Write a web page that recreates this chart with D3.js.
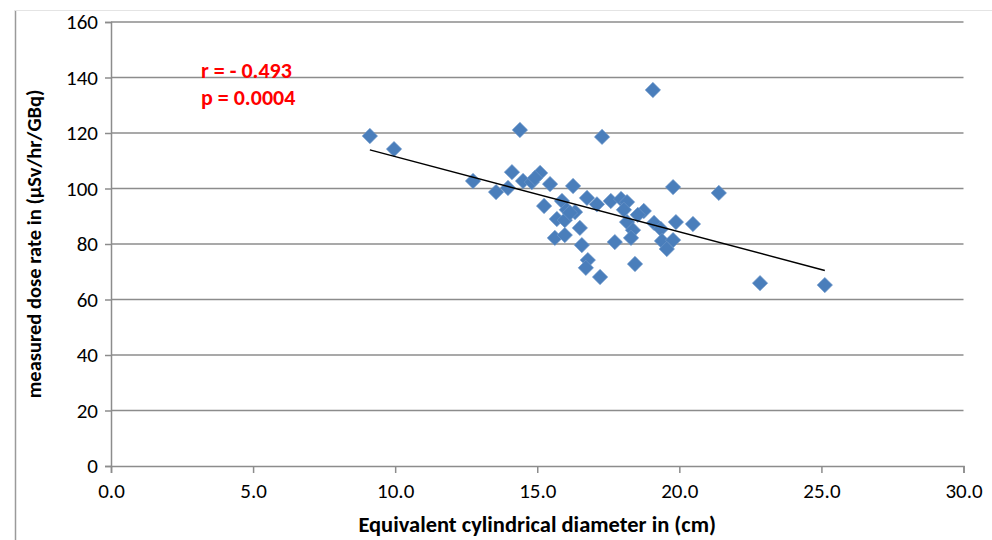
<!DOCTYPE html>
<html><head><meta charset="utf-8">
<script src="https://cdn.jsdelivr.net/npm/d3@7"></script>
<style>
html,body{margin:0;padding:0;background:#fff;}
svg{display:block;font-family:Carlito,Calibri,Lato,"Open Sans",sans-serif;}
</style></head>
<body>
<svg id="chart" width="992" height="540"></svg>
<script>
const diameter = [9.11,9.96,12.74,13.55,13.97,14.11,14.39,14.50,14.81,15.10,14.92,15.45,15.24,15.87,16.04,15.69,15.97,15.62,15.97,16.26,16.33,16.50,16.57,16.78,16.71,17.21,17.28,16.75,17.10,17.59,17.95,18.16,18.05,18.75,18.54,18.16,18.37,18.30,17.73,19.07,19.11,19.35,19.78,19.88,19.39,19.78,19.56,18.44,20.48,21.39,22.84,25.12,16.15];
const doseRate = [118.9,114.2,102.7,98.7,100.2,105.9,121.1,102.7,102.3,105.6,103.8,101.6,93.7,95.5,92.3,89.0,88.6,82.2,83.2,100.9,91.5,85.8,79.6,74.2,71.4,68.1,118.6,96.6,94.3,95.5,96.2,95.1,92.3,91.9,90.5,87.9,85.0,82.2,80.7,135.5,87.6,85.4,100.5,87.9,81.1,81.4,78.2,72.8,87.2,98.4,65.9,65.2,91.2];
const xTicks = [0,5,10,15,20,25,30];
const yTicks = [0,20,40,60,80,100,120,140,160];
const statLabels = ["r = - 0.493","p = 0.0004"];
const xTitle = "Equivalent cylindrical diameter in (cm)";
const yTitle = "measured dose rate in (\u00b5Sv/hr/GBq)";

const svg = d3.select("#chart");
const mL = 111, mR = 963.5, mT = 22, mB = 466;
const x = d3.scaleLinear().domain([0,30]).range([mL,mR]);
const y = d3.scaleLinear().domain([0,160]).range([mB,mT]);

// frame
svg.append("line").attr("x1",15.5).attr("x2",15.5).attr("y1",10).attr("y2",540).attr("stroke","#9a9a9a").attr("stroke-width",1.5);
svg.append("line").attr("x1",15).attr("x2",992).attr("y1",10.5).attr("y2",10.5).attr("stroke","#e4e4e4").attr("stroke-width",1);

// gridlines
svg.append("g").selectAll("line").data(yTicks.filter(d=>d>0)).join("line")
  .attr("x1",mL).attr("x2",mR).attr("y1",d=>y(d)).attr("y2",d=>y(d))
  .attr("stroke","#8c8c8c").attr("stroke-width",1.5);

// axes
const gx = svg.append("g").attr("transform",`translate(0,${mB})`)
  .call(d3.axisBottom(x).tickValues(xTicks).tickFormat(d3.format(".1f")).tickSize(7).tickPadding(10));
const gy = svg.append("g").attr("transform",`translate(${mL},0)`)
  .call(d3.axisLeft(y).tickValues(yTicks).tickFormat(d3.format("d")).tickSize(6).tickPadding(7));
[gx,gy].forEach(g=>{
  g.select(".domain").attr("stroke","#8c8c8c").attr("stroke-width",1.5);
  g.selectAll(".tick line").attr("stroke","#8c8c8c").attr("stroke-width",1.5);
  g.selectAll(".tick text").attr("fill","#000").style("font-size","21px").style("font-family","Carlito,Calibri,Lato,'Open Sans',sans-serif");
});

// trend line (least squares)
const n = diameter.length;
const mx = d3.mean(diameter), my = d3.mean(doseRate);
let sxy=0, sxx=0;
for(let i=0;i<n;i++){ sxy += (diameter[i]-mx)*(doseRate[i]-my); sxx += (diameter[i]-mx)**2; }
const slope = sxy/sxx, icpt = my - slope*mx;
const xr = d3.extent(diameter);

// points
svg.append("g").selectAll("path").data(diameter.map((d,i)=>[d,doseRate[i]])).join("path")
  .attr("d", d3.symbol().type(d3.symbolSquare).size(118))
  .attr("transform", d=>`translate(${x(d[0])},${y(d[1])}) rotate(45)`)
  .attr("fill","#4a7ebb").attr("stroke","#6e97c9").attr("stroke-width",0.6);

svg.append("line")
  .attr("x1",x(xr[0])).attr("y1",y(icpt+slope*xr[0]))
  .attr("x2",x(xr[1])).attr("y2",y(icpt+slope*xr[1]))
  .attr("stroke","#000").attr("stroke-width",1.5);

// stats text
svg.append("g").selectAll("text").data(statLabels).join("text")
  .attr("x",201).attr("y",(d,i)=>78+i*27)
  .attr("fill","#ff0000").style("font-size","22px").style("font-weight","bold")
  .text(d=>d);

// titles
svg.append("text").attr("x",(mL+mR)/2).attr("y",532).attr("text-anchor","middle")
  .style("font-size","22.5px").style("font-weight","bold").text(xTitle);
svg.append("text").attr("transform",`translate(41,${(mT+mB)/2}) rotate(-90)`).attr("text-anchor","middle")
  .style("font-size","20.5px").style("font-weight","bold").text(yTitle);
</script>
</body></html>
